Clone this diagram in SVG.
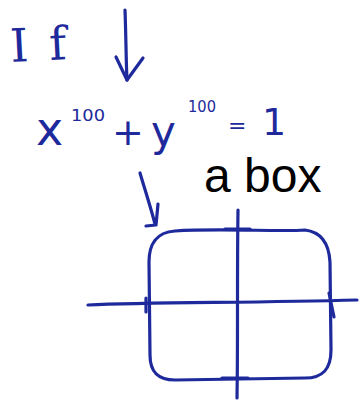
<svg xmlns="http://www.w3.org/2000/svg" width="360" height="409" viewBox="0 0 360 409">
<style>
.ink{fill:none;stroke:#1e2a9c;stroke-width:3.2;stroke-linecap:round;stroke-linejoin:round}
.hand{fill:#1e2a9c;font-family:"DejaVu Sans","Liberation Sans",sans-serif}
.lbl{fill:#000;font-family:"Liberation Sans",Arial,sans-serif;font-size:48px}
</style>
<rect width="360" height="409" fill="#fff"/>
<g id="if-label">
<text class="hand" x="11" y="62" font-size="46" textLength="56" lengthAdjust="spacing" style="font-family:'DejaVu Serif',serif" transform="rotate(-3 11 62)">If</text>
</g>
<g id="equation">
<text class="hand" x="36" y="145" font-size="46">x</text>
<text class="hand" x="71" y="121" font-size="15" textLength="34" lengthAdjust="spacingAndGlyphs">100</text>
<text class="hand" x="112" y="145" font-size="38">+</text>
<text class="hand" x="151" y="146" font-size="42">y</text>
<text class="hand" x="188" y="112" font-size="15" textLength="28" lengthAdjust="spacingAndGlyphs">100</text>
<text class="hand" x="228" y="133" font-size="22">=</text>
<text class="hand" x="262" y="135" font-size="38">1</text>
</g>
<g id="a-box-label">
<text class="lbl" x="204" y="192">a box</text>
</g>
<g id="box-plot">
<path class="ink" d="M175,231 C220,228 280,232 305,230 C322,232 329,245 330,262 L331,350 C331,370 322,378 305,378 L175,380 C158,380 150,372 150,355 L149,262 C149,245 156,232 175,231 Z"/>
<path class="ink" d="M88,305 C150,302 250,303 357,300"/>
<path class="ink" d="M238,210 C237,280 238,340 237,398"/>
<path class="ink" d="M225,229 L250,229"/>
<path class="ink" d="M222,378 L248,378"/>
<path class="ink" d="M146,298 L146,312"/>
<path class="ink" d="M329,293 L334,317"/>
</g>
<g id="connectors">
<path class="ink" d="M125,10 C126,35 126,60 127,80"/>
<path class="ink" d="M116,57 L127,80 L143,58"/>
<path class="ink" d="M140,173 C145,190 150,205 155,224"/>
<path class="ink" d="M146,226 L156,225 L158,204"/>
</g>
</svg>
